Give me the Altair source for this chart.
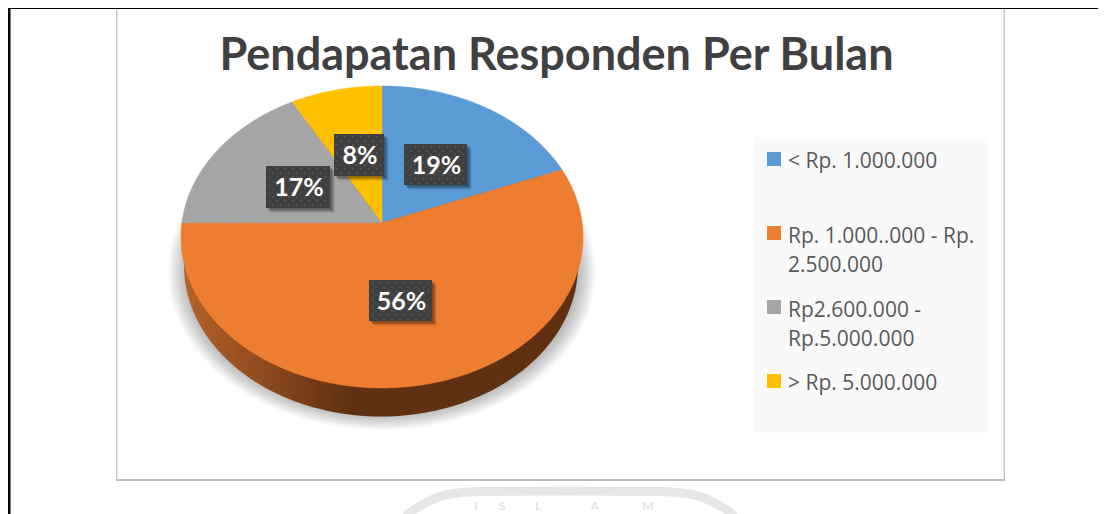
import math
import altair as alt
import pandas as pd

shares = [19, 56, 17, 8]
pct_labels = ["19%", "56%", "17%", "8%"]
categories = ["< Rp. 1.000.000", "Rp. 1.000..000 - Rp.", "Rp2.600.000 -", "> Rp. 5.000.000"]
cat_cont = ["", "2.500.000", "Rp.5.000.000", ""]
slice_colors = ["#5B9BD5", "#ED7D31", "#A5A5A5", "#FFC000"]
title_text = "Pendapatan Responden Per Bulan"
watermark_letters = ["I", "S", "L", "A", "M"]
watermark_x = [476, 502, 538, 595, 648]
watermark_arc_x = [405, 425, 450, 480, 570, 660, 690, 715, 735]
watermark_arc_y = [516, 503, 494, 491.5, 491, 491.5, 494, 503, 516]

W, H = 1090, 506
X = alt.X("x:Q", axis=None, scale=alt.Scale(domain=[8, 8 + W], range=[0, W], nice=False, zero=False))
Y = alt.Y("y:Q", axis=None, scale=alt.Scale(domain=[8, 8 + H], range=[0, H], nice=False, zero=False))
X2 = alt.X2("x2:Q")
Y2 = alt.Y2("y2:Q")

# pie geometry (perspective tilted disc)
cx, cy, rx, ry = 382, 237, 201, 151
ax, ay, k = 382, 222.7, 0.742


def rim(theta):
    dx, dy = math.sin(theta), -k * math.cos(theta)
    ox, oy = (ax - cx) / rx, (ay - cy) / ry
    a = (dx / rx) ** 2 + (dy / ry) ** 2
    b = 2 * (ox * dx / rx + oy * dy / ry)
    c = ox * ox + oy * oy - 1
    t = (-b + math.sqrt(b * b - 4 * a * c)) / (2 * a)
    return ax + t * dx, ay + t * dy


def ell(cxx, cyy, rxx, ryy, n=180):
    return pd.DataFrame(
        [
            {
                "x": cxx + rxx * math.cos(2 * math.pi * i / n),
                "y": cyy + ryy * math.sin(2 * math.pi * i / n),
                "o": i,
            }
            for i in range(n + 1)
        ]
    )


def poly(df, **mark):
    return alt.Chart(df).mark_line(interpolate="linear", **mark).encode(x=X, y=Y, order="o:Q")


def box(x, x2, y, y2, **mark):
    df = pd.DataFrame([{"x": x, "x2": x2, "y": y, "y2": y2}])
    return alt.Chart(df).mark_rect(**mark).encode(x=X, x2=X2, y=Y, y2=Y2)


def text(s, x, y, **mark):
    df = pd.DataFrame([{"x": x, "y": y, "t": s}])
    return alt.Chart(df).mark_text(**mark).encode(x=X, y=Y, text="t:N")


layers = []

# outer page frame
layers += [
    box(8, 10.5, 8, 514, color="#000000"),
    box(8, 1098, 8, 9, color="#000000"),
]
# chart box
layers += [
    box(116, 117.5, 9, 481, color="#c8c8c8"),
    box(1003.5, 1005, 9, 481, color="#c8c8c8"),
    box(116, 1005, 479, 481, color="#bdbdbd"),
]

# faint watermark under the chart box
arc_df = pd.DataFrame({"x": watermark_arc_x, "y": watermark_arc_y, "o": range(len(watermark_arc_x))})
layers.append(
    alt.Chart(arc_df)
    .mark_line(interpolate="monotone", color="#e6e6e6", strokeWidth=9, clip=True)
    .encode(x=X, y=Y, order="o:Q")
)
for letter, lx in zip(watermark_letters, watermark_x):
    layers.append(
        text(letter, lx, 510, color="#e2e2e2", fontSize=12, fontWeight="bold", font="Lato",
             align="center", baseline="alphabetic")
    )

# soft shadow below the disc
for i in range(14):
    layers.append(
        poly(ell(382, 272, 214 - i * 1.6, 158 - i * 1.3), fill="#000000", fillOpacity=0.022, strokeWidth=0, stroke="transparent")
    )

# disc side
side_grad = alt.LinearGradient(
    gradient="linear",
    x1=0, x2=1, y1=0, y2=0,
    stops=[
        alt.GradientStop(offset=0, color="#b5622a"),
        alt.GradientStop(offset=0.2, color="#8f4a1e"),
        alt.GradientStop(offset=0.42, color="#5f3011"),
        alt.GradientStop(offset=1, color="#5f3011"),
    ],
)
layers.append(poly(ell(381, 265.5, 197, 151), fill=side_grad, strokeWidth=0, stroke="transparent"))

# slices
cum = 0
for share, col in zip(shares, slice_colors):
    pts = [(ax, ay)]
    n = max(4, share * 3)
    for j in range(n + 1):
        pts.append(rim(2 * math.pi * (cum + share * j / n) / 100))
    pts.append((ax, ay))
    df = pd.DataFrame([{"x": p[0], "y": p[1], "o": i} for i, p in enumerate(pts)])
    layers.append(poly(df, fill=col, stroke=col, strokeWidth=0.5))
    cum += share

# data label tags
tag_boxes = [(404, 467, 144, 185), (369, 432, 280, 321), (266, 330, 166, 208), (334, 384, 134, 176)]
for lab, (x0, x1, y0, y1) in zip(pct_labels, tag_boxes):
    for off, op in ((5, 0.06), (4, 0.1), (3, 0.14), (2, 0.18)):
        layers.append(box(x0 + off, x1 + off, y0 + off, y1 + off, color="#000000", opacity=op))
    layers.append(box(x0, x1, y0, y1, color="#404040"))
    dots = []
    row = 0
    yy = y0 + 3
    while yy < y1 - 1:
        xx = x0 + 3 + (row % 2) * 4
        while xx < x1 - 1:
            dots.append({"x": xx, "y": yy})
            xx += 8
        yy += 4
        row += 1
    layers.append(
        alt.Chart(pd.DataFrame(dots))
        .mark_square(size=2.5, color="#5a5a5a", opacity=0.9)
        .encode(x=X, y=Y)
    )
    layers.append(
        text(lab, (x0 + x1) / 2 + 1, (y0 + y1) / 2 + 9, color="#ffffff", fontSize=25, fontWeight="bold",
             font="Lato", align="center", baseline="alphabetic")
    )

# title
layers.append(
    text(title_text, 556.5, 69.5, color="#404040", fontSize=45, fontWeight="bold", font="Lato",
         align="center", baseline="alphabetic")
)

# legend
layers.append(box(755, 988, 137, 433, color="#f9f9f9"))
swatch_y = [152, 226, 300, 374]
line1_y = [167.5, 242.5, 316.5, 389.5]
line2_y = [None, 271.5, 345.5, None]
for cat, cont, col, sy, l1, l2 in zip(categories, cat_cont, slice_colors, swatch_y, line1_y, line2_y):
    layers.append(box(767, 781, sy, sy + 14, color=col))
    layers.append(text(cat, 788, l1, color="#595959", fontSize=21, font="Open Sans", align="left", baseline="alphabetic"))
    if cont:
        layers.append(text(cont, 788, l2, color="#595959", fontSize=21, font="Open Sans", align="left", baseline="alphabetic"))

chart = (
    alt.layer(*layers)
    .properties(width=W, height=H, padding=0, autosize=alt.AutoSizeParams(type="none"))
    .configure_view(stroke=None)
    .configure(background="#ffffff")
)
chart.save("out.html", embed_options={"renderer": "svg", "actions": False})
